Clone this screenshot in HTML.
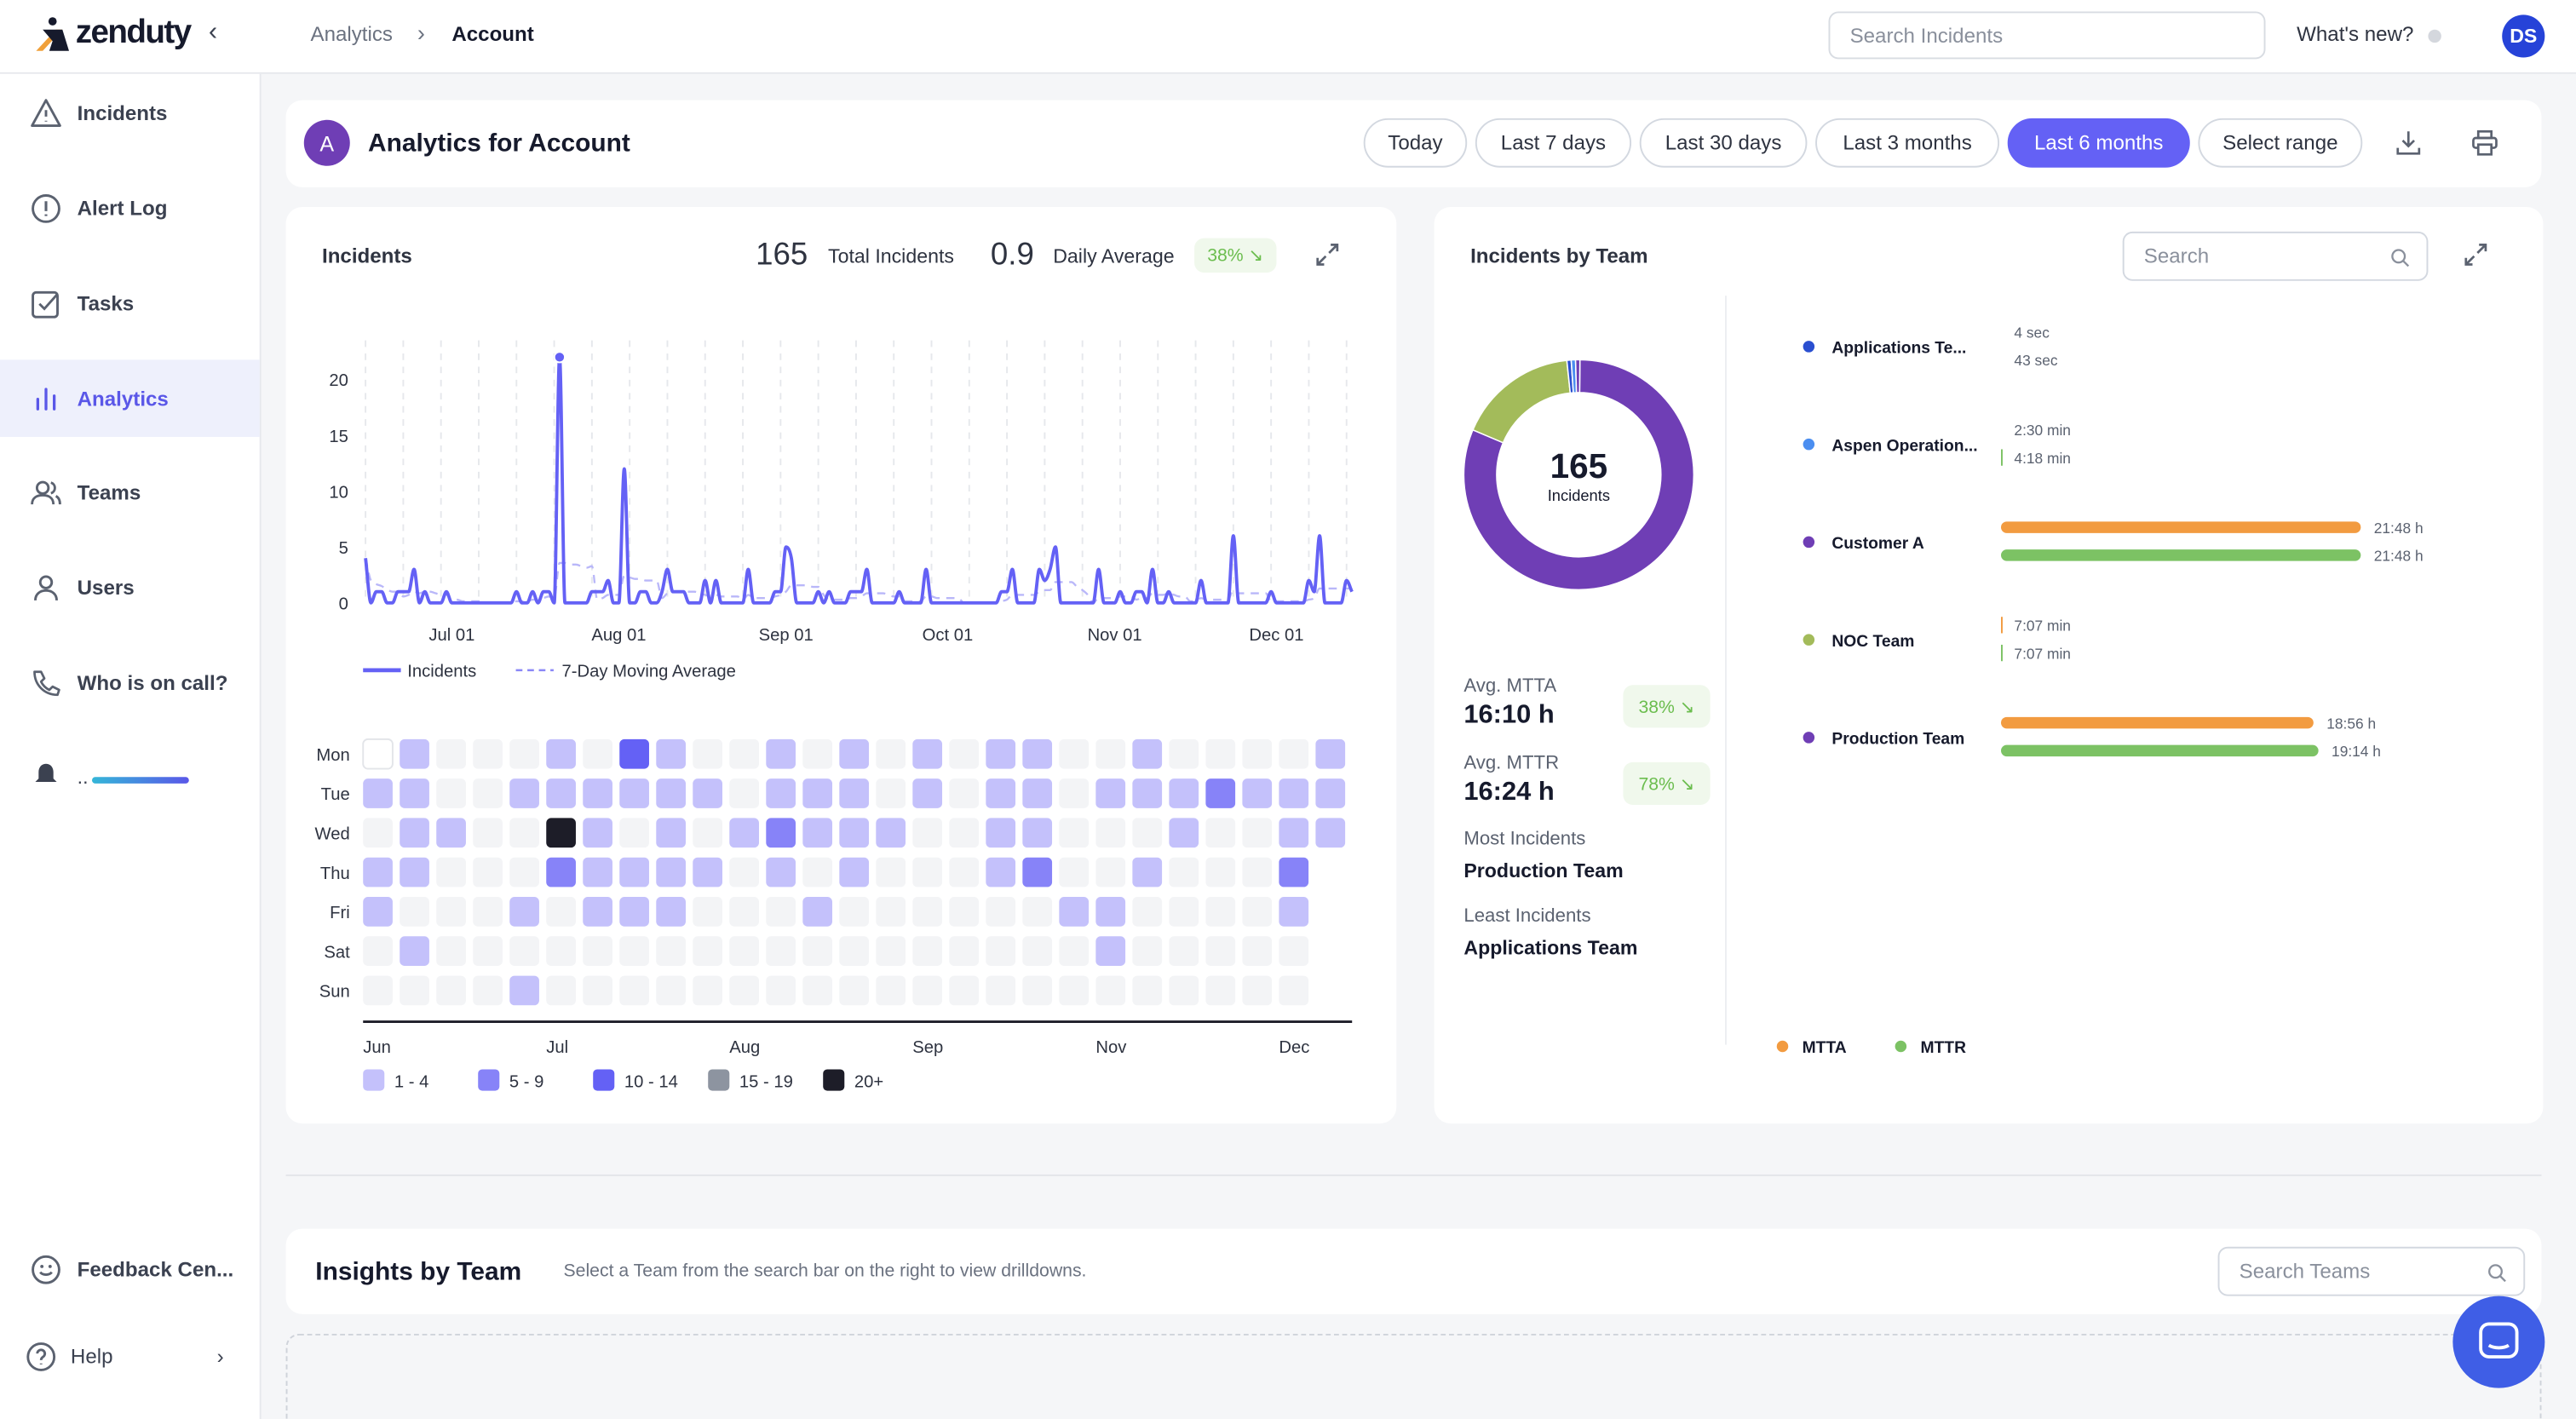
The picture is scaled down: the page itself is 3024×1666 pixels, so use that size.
<!DOCTYPE html>
<html><head><meta charset="utf-8">
<style>
html,body{margin:0;padding:0;}
body{width:3024px;height:1666px;overflow:hidden;background:#f5f6f8;font-family:"Liberation Sans",sans-serif;color:#1f2430;}
#w{position:absolute;left:0;top:0;width:1568px;height:864px;overflow:hidden;transform:scale(1.928571);transform-origin:0 0;background:#f5f6f8;}
.a{position:absolute;}
.card{position:absolute;background:#fff;border-radius:10px;}
.nav{position:absolute;left:0;width:158px;height:46px;display:flex;align-items:center;font-size:12.5px;color:#3b4150;font-weight:600;}
.nav svg{position:absolute;left:18px;}
.nav span{position:absolute;left:47px;}
.btn{position:absolute;top:72px;height:30px;border:1px solid #d3d8e0;border-radius:16px;font-size:12.5px;color:#2e3340;display:flex;align-items:center;justify-content:center;box-sizing:border-box;}
.lbl{font-size:12px;color:#5b6270;}
.badge{position:absolute;background:#f0f8ec;color:#6bbd4e;border-radius:6px;font-size:11px;display:flex;align-items:center;justify-content:center;}
</style></head>
<body>
<div id="w">
<div class="a" style="left:0;top:0;width:1568px;height:44px;background:#fff;border-bottom:1px solid #e6e8ec;"></div>
<div class="a" style="left:20px;top:9px;width:100px;height:26px;">
 <svg width="26" height="26" style="position:absolute;left:0;top:0"><circle cx="12" cy="4" r="2.5" fill="#161a2c"/><polygon points="2,22 14,9 18,9 6,22" fill="#f0a03a"/><polygon points="6,9 18,9 22,22 10,22 12,16" fill="#161a2c"/></svg>
 <span style="position:absolute;left:26px;top:0px;font-size:20px;font-weight:700;color:#161a2c;letter-spacing:-0.8px;">zenduty</span>
</div>
<div class="a" style="left:127px;top:11px;font-size:16px;color:#3b4150;">‹</div>
<div class="a" style="left:189px;top:14px;font-size:12.5px;color:#6b7280;">Analytics</div>
<div class="a" style="left:254px;top:12px;font-size:14px;color:#6b7280;">›</div>
<div class="a" style="left:275px;top:14px;font-size:12.5px;font-weight:700;color:#161a2c;">Account</div>
<div class="a" style="left:1113px;top:7px;width:266px;height:29px;border:1px solid #d8dce2;border-radius:6px;box-sizing:border-box;font-size:12.5px;color:#8a909c;padding:7px 12px;">Search Incidents</div>
<div class="a" style="left:1398px;top:14px;font-size:12.5px;color:#2e3340;">What's new?</div>
<div class="a" style="left:1478px;top:18px;width:8px;height:8px;border-radius:50%;background:#d4d7dd;"></div>
<div class="a" style="left:1523px;top:9px;width:26px;height:26px;border-radius:50%;background:#2643d8;color:#fff;font-size:12px;font-weight:700;display:flex;align-items:center;justify-content:center;">DS</div>

<div class="a" style="left:0;top:45px;width:158px;height:819px;background:#fff;border-right:1px solid #e6e8ec;"></div>
<div class="nav" style="top:46px;"><svg width="20" height="20" viewBox="0 0 20 20"><path d="M10 2 L18.5 17.5 H1.5 Z" fill="none" stroke="#5b6270" stroke-width="1.5" stroke-linejoin="round"/><path d="M10 8v4M10 14.5v.5" stroke="#5b6270" stroke-width="1.5"/></svg><span>Incidents</span></div>
<div class="nav" style="top:104px;"><svg width="20" height="20"><circle cx="10" cy="10" r="8" fill="none" stroke="#5b6270" stroke-width="1.5"/><path d="M10 5.5v6M10 13.5v1" stroke="#5b6270" stroke-width="1.6"/></svg><span>Alert Log</span></div>
<div class="nav" style="top:162px;"><svg width="20" height="20"><rect x="2" y="3" width="15" height="15" rx="2" fill="none" stroke="#5b6270" stroke-width="1.5"/><path d="M6 10l3 3 8-9" fill="none" stroke="#5b6270" stroke-width="1.5"/></svg><span>Tasks</span></div>
<div class="a" style="left:0;top:219px;width:158px;height:47px;background:#eef0fc;"></div>
<div class="nav" style="top:220px;color:#5a57e8;"><svg width="20" height="20"><path d="M5 16V10M10 16V4M15 16V8" stroke="#5a57e8" stroke-width="1.7" stroke-linecap="round"/></svg><span>Analytics</span></div>
<div class="nav" style="top:277px;"><svg width="20" height="20"><circle cx="8" cy="7" r="3.5" fill="none" stroke="#5b6270" stroke-width="1.5"/><path d="M1.5 17c0-4 3-5.5 6.5-5.5s6.5 1.5 6.5 5.5M13 3.8a3.4 3.4 0 010 6.5M16 12c1.5.7 2.5 2.2 2.5 5" fill="none" stroke="#5b6270" stroke-width="1.5"/></svg><span>Teams</span></div>
<div class="nav" style="top:335px;"><svg width="20" height="20"><circle cx="10" cy="6.5" r="3.5" fill="none" stroke="#5b6270" stroke-width="1.5"/><path d="M3.5 17.5c0-4 3-6 6.5-6s6.5 2 6.5 6" fill="none" stroke="#5b6270" stroke-width="1.5"/></svg><span>Users</span></div>
<div class="nav" style="top:393px;"><svg width="20" height="20"><path d="M3 3c0 8 6 14 14 14l1-3-4-2-2 2c-2-1-4-3-5-5l2-2-2-4z" fill="none" stroke="#5b6270" stroke-width="1.4" stroke-linejoin="round"/></svg><span>Who is on call?</span></div>
<div class="a" style="left:20px;top:464px;"><svg width="16" height="16"><path d="M8 1c3 0 4.5 2.5 4.5 5v4l2 2H1.5l2-2V6C3.5 3.5 5 1 8 1zM6.5 14h3" fill="#3b4150"/></svg></div>
<div class="a" style="left:56px;top:473px;width:59px;height:4px;border-radius:2px;background:linear-gradient(90deg,#34b6d8,#5a57e8);"></div>
<div class="a" style="left:47px;top:466px;font-size:12px;color:#3b4150;">..</div>
<div class="nav" style="top:750px;"><svg width="20" height="20"><circle cx="10" cy="10" r="8" fill="none" stroke="#5b6270" stroke-width="1.5"/><path d="M6.5 11.5c1.5 2 5.5 2 7 0" fill="none" stroke="#5b6270" stroke-width="1.5"/><circle cx="7.5" cy="8" r="1" fill="#5b6270"/><circle cx="12.5" cy="8" r="1" fill="#5b6270"/></svg><span>Feedback Cen...</span></div>
<div class="nav" style="top:803px;font-weight:400;"><svg width="20" height="20" style="left:15px"><circle cx="10" cy="10" r="8" fill="none" stroke="#5b6270" stroke-width="1.5"/><path d="M7.7 8a2.3 2.3 0 114 1.6c-1 .8-1.7 1.2-1.7 2.4M10 14v.6" fill="none" stroke="#5b6270" stroke-width="1.5"/></svg><span style="left:43px;">Help</span><span style="left:132px;">›</span></div>

<div class="card" style="left:174px;top:61px;width:1373px;height:53px;"></div>
<div class="a" style="left:185px;top:73px;width:28px;height:28px;border-radius:50%;background:#6f3eb5;color:#fff;font-size:13px;display:flex;align-items:center;justify-content:center;">A</div>
<div class="a" style="left:224px;top:79px;font-size:15.5px;font-weight:700;color:#161a2c;">Analytics for Account</div>
<div class="btn" style="left:830px;width:63px;">Today</div>
<div class="btn" style="left:898px;width:95px;">Last 7 days</div>
<div class="btn" style="left:998px;width:102px;">Last 30 days</div>
<div class="btn" style="left:1105px;width:112px;">Last 3 months</div>
<div class="btn" style="left:1222px;width:111px;background:#6461f5;border-color:#6461f5;color:#fff;">Last 6 months</div>
<div class="btn" style="left:1338px;width:100px;">Select range</div>
<div class="a" style="left:1458px;top:79px;"><svg width="16" height="16"><path d="M8 1v9M4.5 6.5L8 10l3.5-3.5M1.5 11v3.5h13V11" fill="none" stroke="#5b6270" stroke-width="1.4"/></svg></div>
<div class="a" style="left:1504px;top:79px;"><svg width="17" height="16"><rect x="4.5" y="1" width="8" height="4" fill="none" stroke="#5b6270" stroke-width="1.4"/><rect x="1.5" y="5" width="14" height="6" rx="1.5" fill="none" stroke="#5b6270" stroke-width="1.4"/><rect x="4.5" y="9" width="8" height="6" fill="#fff" stroke="#5b6270" stroke-width="1.4"/></svg></div>

<div class="card" style="left:174px;top:126px;width:676px;height:558px;"></div>
<div class="a" style="left:196px;top:149px;font-size:12.5px;font-weight:700;color:#2e3340;">Incidents</div>
<div class="a" style="left:460px;top:145px;font-size:19px;color:#2e3340;">165</div>
<div class="a lbl" style="left:504px;top:149px;font-size:12px;color:#2e3340;">Total Incidents</div>
<div class="a" style="left:603px;top:145px;font-size:19px;color:#2e3340;">0.9</div>
<div class="a lbl" style="left:641px;top:149px;font-size:12px;color:#2e3340;">Daily Average</div>
<div class="badge" style="left:727px;top:145px;width:50px;height:21px;">38% ↘</div>
<div class="a" style="left:800px;top:147px;"><svg width="16" height="16"><path d="M10 2h4v4M14 2l-5 5M6 14H2v-4M2 14l5-5" fill="none" stroke="#5b6270" stroke-width="1.4"/></svg></div>
<svg class="a" id="lineChart" style="left:174px;top:190px;" width="676" height="240"></svg>
<svg class="a" id="heatmap" style="left:174px;top:440px;" width="676" height="240"></svg>

<div class="card" style="left:873px;top:126px;width:675px;height:558px;"></div>
<div class="a" style="left:895px;top:149px;font-size:12.5px;font-weight:700;color:#2e3340;">Incidents by Team</div>
<div class="a" style="left:1292px;top:141px;width:186px;height:30px;border:1px solid #d3d8e0;border-radius:6px;box-sizing:border-box;font-size:12.5px;color:#8a909c;padding:7px 12px;">Search<svg width="12" height="12" style="position:absolute;right:10px;top:9px"><circle cx="5" cy="5" r="3.8" fill="none" stroke="#8a909c" stroke-width="1.2"/><path d="M8 8l3 3" stroke="#8a909c" stroke-width="1.2"/></svg></div>
<div class="a" style="left:1499px;top:147px;"><svg width="16" height="16"><path d="M10 2h4v4M14 2l-5 5M6 14H2v-4M2 14l5-5" fill="none" stroke="#5b6270" stroke-width="1.4"/></svg></div>
<div class="a" style="left:1050px;top:180px;width:1px;height:456px;background:#eceef1;"></div>
<svg class="a" id="donut" style="left:881px;top:209px;" width="160" height="160"></svg>
<div class="a" style="left:891px;top:412px;font-size:11.5px;color:#5b6270;">Avg. MTTA</div>
<div class="a" style="left:891px;top:427px;font-size:16px;font-weight:700;color:#161a2c;">16:10 h</div>
<div class="badge" style="left:988px;top:417px;width:53px;height:26px;">38% ↘</div>
<div class="a" style="left:891px;top:459px;font-size:11.5px;color:#5b6270;">Avg. MTTR</div>
<div class="a" style="left:891px;top:474px;font-size:16px;font-weight:700;color:#161a2c;">16:24 h</div>
<div class="badge" style="left:988px;top:464px;width:53px;height:26px;">78% ↘</div>
<div class="a" style="left:891px;top:505px;font-size:11.5px;color:#5b6270;">Most Incidents</div>
<div class="a" style="left:891px;top:523px;font-size:12px;font-weight:700;color:#161a2c;">Production Team</div>
<div class="a" style="left:891px;top:552px;font-size:11.5px;color:#5b6270;">Least Incidents</div>
<div class="a" style="left:891px;top:570px;font-size:12px;font-weight:700;color:#161a2c;">Applications Team</div>
<svg class="a" id="bars" style="left:1060px;top:180px;" width="480" height="480"></svg>

<div class="a" style="left:174px;top:715px;width:1373px;height:1px;background:#e3e5e9;"></div>
<div class="card" style="left:174px;top:748px;width:1373px;height:52px;"></div>
<div class="a" style="left:192px;top:766px;font-size:15.5px;font-weight:700;color:#161a2c;">Insights by Team</div>
<div class="a" style="left:343px;top:768px;font-size:11px;color:#6b7280;">Select a Team from the search bar on the right to view drilldowns.</div>
<div class="a" style="left:1350px;top:759px;width:187px;height:30px;border:1px solid #d3d8e0;border-radius:6px;box-sizing:border-box;font-size:12.5px;color:#8a909c;padding:7px 12px;">Search Teams<svg width="12" height="12" style="position:absolute;right:10px;top:9px"><circle cx="5" cy="5" r="3.8" fill="none" stroke="#8a909c" stroke-width="1.2"/><path d="M8 8l3 3" stroke="#8a909c" stroke-width="1.2"/></svg></div>
<div class="a" style="left:174px;top:812px;width:1371px;height:60px;border:1px dashed #cfd3da;border-radius:8px;"></div>
<div class="a" style="left:1493px;top:789px;width:56px;height:56px;border-radius:50%;background:#3f5ee6;"><svg width="56" height="56"><rect x="17" y="17" width="22" height="20" rx="5" fill="none" stroke="#fff" stroke-width="2"/><path d="M22 30c3 2 9 2 12 0" fill="none" stroke="#fff" stroke-width="2"/></svg></div>
</div>

<script>
const incidents = [
4,0,1,1,0,0,1,1,1,3,
0,1,0,0,0,1,0,0,0,0,
0,0,0,0,0,0,0,0,1,0,
0,1,0,1,1,0,22,0,0,0,
0,0,1,1,1,2,0,0,12,0,
0,1,1,0,0,1,3,1,1,1,
0,0,0,2,0,2,0,0,0,0,
0,3,0,0,0,0,1,1,5,4,
0,0,0,0,1,0,1,0,0,0,
1,1,1,3,0,0,0,0,0,1,
0,0,0,0,3,0,0,0,0,0,
0,0,0,0,0,0,0,0,1,1,
3,0,0,0,0,3,2,3,5,0,
0,0,0,0,0,0,3,0,0,0,
1,0,0,1,1,0,3,0,0,1,
0,0,0,0,0,2,0,0,0,0,
0,6,0,0,0,0,0,0,1,0,
0,0,0,0,0,2,1,6,0,0,
0,0,2,1];
const yTicks = [0,5,10,15,20];
const xTickLabels = ["Jul 01","Aug 01","Sep 01","Oct 01","Nov 01","Dec 01"];
const xTickDays = [16,47,78,108,139,169];

const dayLabels = ["Mon","Tue","Wed","Thu","Fri","Sat","Sun"];
const heatRows = [
"910001031001010101100100001",
"110011111101110101101112111",
"011005101012111001100010011",
"11000211110101000120010002",
"10001011100010000001100001",
"01000000000000000000100000",
"00001000000000000000000000"];
const monthLabels = ["Jun","Jul","Aug","Sep","Nov","Dec"];
const monthCols = [0,5,10,15,20,25];
const legendLabels = ["1 - 4","5 - 9","10 - 14","15 - 19","20+"];

const teams = ["Applications Te...","Aspen Operation...","Customer A","NOC Team","Production Team"];
const teamIncidents = [1,1,1,28,134];
const mttaSec = [4,150,78480,427,68160];
const mttrSec = [43,258,78480,427,69240];
const mttaLabels = ["4 sec","2:30 min","21:48 h","7:07 min","18:56 h"];
const mttrLabels = ["43 sec","4:18 min","21:48 h","7:07 min","19:14 h"];

const NS="http://www.w3.org/2000/svg";
function mk(parent,tag,attrs,text){const e=document.createElementNS(NS,tag);for(const k in attrs)e.setAttribute(k,attrs[k]);if(text!==undefined)e.textContent=text;parent.appendChild(e);return e;}
function monotone(pts){
 const n=pts.length;if(n<2)return '';
 const dx=[],sl=[];for(let i=0;i<n-1;i++){dx[i]=pts[i+1][0]-pts[i][0];sl[i]=(pts[i+1][1]-pts[i][1])/dx[i];}
 const m=[sl[0]];for(let i=1;i<n-1;i++){m[i]=(sl[i-1]*sl[i]<=0)?0:(sl[i-1]+sl[i])/2;}m[n-1]=sl[n-2];
 for(let i=0;i<n-1;i++){if(sl[i]===0){m[i]=0;m[i+1]=0;continue;}const a=m[i]/sl[i],b=m[i+1]/sl[i],s=a*a+b*b;if(s>9){const t=3/Math.sqrt(s);m[i]=t*a*sl[i];m[i+1]=t*b*sl[i];}}
 let d='M'+pts[0][0].toFixed(2)+' '+pts[0][1].toFixed(2);
 for(let i=0;i<n-1;i++){const h=dx[i]/3;d+='C'+(pts[i][0]+h).toFixed(2)+' '+(pts[i][1]+m[i]*h).toFixed(2)+' '+(pts[i+1][0]-h).toFixed(2)+' '+(pts[i+1][1]-m[i+1]*h).toFixed(2)+' '+pts[i+1][0].toFixed(2)+' '+pts[i+1][1].toFixed(2);}
 return d;
}

(function(){
 const svg=document.getElementById('lineChart');
 const X0=222.5-174, PX=3.281, Y0=367-190, PY=6.8;
 const xs=d=>X0+d*PX, ys=v=>Y0-v*PY;
 for(let d=0; d<incidents.length; d+=7){
  const g=mk(svg,'line',{x1:xs(d),x2:xs(d),y1:ys(23.5),y2:Y0,stroke:'#e6e8ec','stroke-dasharray':'4 4'});
  
  
 }
 yTicks.forEach(v=>{
  const t=mk(svg,'text',{x:38,y:ys(v)+4,'text-anchor':'end','font-size':10.5,fill:'#2e3340'},v);
  
  
 });
 xTickLabels.forEach((l,i)=>{
  const t=mk(svg,'text',{x:xs(xTickDays[i]),y:200,'text-anchor':'middle','font-size':10.5,fill:'#2e3340'},l);
  
  
 });
 const ma=incidents.map((v,i)=>{let s=0,n=0;for(let j=Math.max(0,i-6);j<=i;j++){s+=incidents[j];n++;}return s/n;});
 const mp=mk(svg,'path',{d:monotone(ma.map((v,i)=>[xs(i),ys(v)])),fill:'none',stroke:'#b9b7f9','stroke-width':1.2,'stroke-dasharray':'5 4'});
 
 
 const lp=mk(svg,'path',{d:monotone(incidents.map((v,i)=>[xs(i),ys(v)])),fill:'none',stroke:'#6461f5','stroke-width':2,'stroke-linejoin':'round'});
 
 
 let mi=0;incidents.forEach((v,i)=>{if(v>incidents[mi])mi=i;});
 const pt=mk(svg,'circle',{cx:xs(mi),cy:ys(incidents[mi]),r:3.2,fill:'#6461f5',stroke:'#fff','stroke-width':1});
 
 
 const l1=mk(svg,'line',{x1:47,x2:70,y1:218,y2:218,stroke:'#6461f5','stroke-width':2.5});
 
 
 const t1=mk(svg,'text',{x:74,y:222,'font-size':10.5,fill:'#2e3340'},'Incidents');
 
 
 const l2=mk(svg,'line',{x1:140,x2:163,y1:218,y2:218,stroke:'#8a87f7','stroke-width':1.3,'stroke-dasharray':'4 3'});
 
 
 const t2=mk(svg,'text',{x:168,y:222,'font-size':10.5,fill:'#2e3340'},'7-Day Moving Average');
 
 
})();

(function(){
 const svg=document.getElementById('heatmap');
 const colors=['#f3f4f6','#c4c1fb','#8783f8','#6461f5','#8d94a0','#1d1d28'];
 const CX=221-174, CW=22.3, RY=450-440, RH=24, S=18;
 dayLabels.forEach((d,r)=>{
  const t=mk(svg,'text',{x:39,y:RY+r*RH+13,'text-anchor':'end','font-size':10.5,fill:'#2e3340'},d);
  
  
 });
 heatRows.forEach((row,r)=>{
  [...row].forEach((c,ci)=>{
   const v=+c;
   const attrs={x:CX+ci*CW,y:RY+r*RH,width:S,height:S,rx:3,fill:v===9?'#fff':colors[v]};
   if(v===9){attrs.stroke='#e3e5e9';attrs['stroke-width']=1;}
   const e=mk(svg,'rect',attrs);
   
   
  });
 });
 const ax=mk(svg,'line',{x1:CX,x2:823-174,y1:182,y2:182,stroke:'#1d1d28','stroke-width':1.5});
 
 
 monthLabels.forEach((m,i)=>{
  const t=mk(svg,'text',{x:CX+monthCols[i]*CW,y:201,'font-size':10.5,fill:'#2e3340'},m);
  
  
 });
 legendLabels.forEach((l,i)=>{
  const x=CX+i*70;
  const r=mk(svg,'rect',{x:x,y:211,width:13,height:13,rx:2.5,fill:colors[i+1]});
  
  
  const t=mk(svg,'text',{x:x+19,y:222,'font-size':10.5,fill:'#2e3340'},l);
  
  
 });
})();

(function(){
 const svg=document.getElementById('donut');
 const cx=80,cy=80,R=70,r=50;
 const order=[4,3,0,1,2];
 const cols=['#2a4fd0','#4b8ef0','#6f3eb5','#a3bb5a','#6f3eb5'];
 const total=teamIncidents.reduce((a,b)=>a+b,0);
 let a0=0.01;
 order.forEach(i=>{
  const a1=a0+teamIncidents[i]/total*Math.PI*2;
  const p=(a,rad)=>[cx+rad*Math.sin(a),cy-rad*Math.cos(a)];
  const large=(a1-a0)>Math.PI?1:0;
  const [x1,y1]=p(a0,R),[x2,y2]=p(a1,R),[x3,y3]=p(a1,r),[x4,y4]=p(a0,r);
  const e=mk(svg,'path',{d:`M${x1} ${y1}A${R} ${R} 0 ${large} 1 ${x2} ${y2}L${x3} ${y3}A${r} ${r} 0 ${large} 0 ${x4} ${y4}Z`,fill:cols[i],stroke:'#fff','stroke-width':0.8});
  
  
  a0=a1;
 });
 const t=mk(svg,'text',{x:cx,y:cy+2,'text-anchor':'middle','font-size':21,'font-weight':'bold',fill:'#161a2c'},total);
 
 
 const t2=mk(svg,'text',{x:cx,y:cy+16,'text-anchor':'middle','font-size':9.5,fill:'#161a2c'},'Incidents');
 
 
})();

(function(){
 const svg=document.getElementById('bars');
 const cols=['#2a4fd0','#4b8ef0','#6f3eb5','#a3bb5a','#6f3eb5'];
 const BX=1218-1060, PXS=219/78480;
 teams.forEach((n,i)=>{
  const cy=31+i*59.5;
  const d=mk(svg,'circle',{cx:41,cy:cy,r:3.5,fill:cols[i]});
  
  
  const t=mk(svg,'text',{x:55,y:cy+4,'font-size':10,'font-weight':'bold',fill:'#161a2c'},n);
  
  
  [[mttaSec,mttaLabels,'#f29b40',-9],[mttrSec,mttrLabels,'#7cc264',8]].forEach(([vals,labs,c,off])=>{
   const w=vals[i]*PXS;
   const y=cy+off;
   if(w>3){
    const b=mk(svg,'rect',{x:BX,y:y-3.5,width:w,height:7,rx:3.5,fill:c});
    
    
   } else if(vals[i]>200){
    const b=mk(svg,'rect',{x:BX,y:y-5,width:1,height:10,fill:c});
    
    
   }
   const lx=w>3?BX+w+8:BX+8;
   const l=mk(svg,'text',{x:lx,y:y+3.5,'font-size':9,fill:'#5b6270'},labs[i]);
   
   
  });
 });
 [['MTTA','#f29b40',25],['MTTR','#7cc264',97]].forEach(([n,c,x])=>{
  const d=mk(svg,'circle',{cx:x,cy:457,r:3.5,fill:c});
  
  
  const t=mk(svg,'text',{x:x+12,y:461,'font-size':10,'font-weight':'bold',fill:'#161a2c'},n);
  
  
 });
})();
</script>
</body></html>
